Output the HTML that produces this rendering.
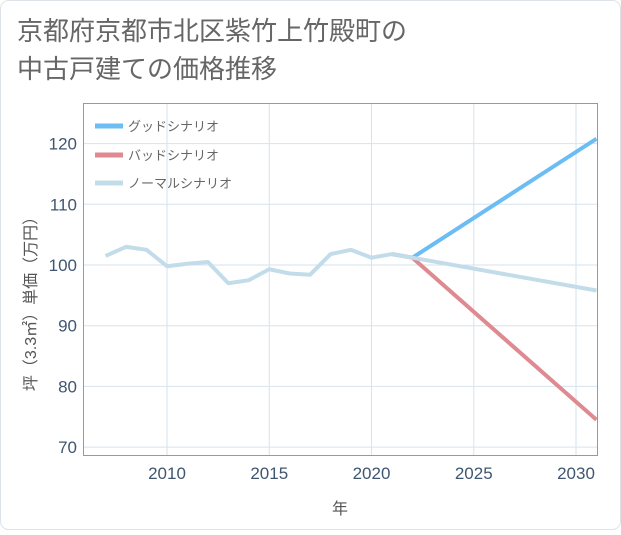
<!DOCTYPE html>
<html><head><meta charset="utf-8"><style>
body{margin:0;width:621px;height:530px;background:#fff;overflow:hidden}
svg text{font-family:"Liberation Sans","Noto Sans CJK JP",sans-serif}
</style></head><body>
<svg width="621" height="530" xmlns="http://www.w3.org/2000/svg">
<rect x="0.5" y="0.5" width="620" height="529" rx="8" fill="#fff" stroke="#dde3e8"/>
<text x="17" y="40" font-size="26" fill="#666">京都府京都市北区紫竹上竹殿町の</text>
<text x="17" y="78" font-size="26" fill="#666">中古戸建ての価格推移</text>
<g id="grid"></g>
<rect x="83.5" y="103.5" width="514" height="352" fill="none" stroke="#999" stroke-width="1"/>
<g id="series"></g>
<g id="axes"></g>
<g>
<line x1="95" y1="126" x2="123" y2="126" stroke="#6bbdf3" stroke-width="5"/>
<text x="128" y="131" font-size="13" fill="#666">グッドシナリオ</text>
<line x1="95" y1="155" x2="123" y2="155" stroke="#de8a90" stroke-width="5"/>
<text x="128" y="160" font-size="13" fill="#666">バッドシナリオ</text>
<line x1="95" y1="183" x2="123" y2="183" stroke="#c3dcea" stroke-width="5"/>
<text x="128" y="188" font-size="13" fill="#666">ノーマルシナリオ</text>
</g>
<text x="340" y="514" font-size="16" fill="#555" text-anchor="middle">年</text>
<text transform="translate(36,300) rotate(-90)" font-size="16" fill="#555" text-anchor="middle">坪（3.3㎡）単価（万円）</text>
</svg>
<script>
const normalYears=[2007,2008,2009,2010,2011,2012,2013,2014,2015,2016,2017,2018,2019,2020,2021,2022,2031];
const normalValues=[101.5,103,102.5,99.8,100.2,100.5,97,97.5,99.3,98.6,98.4,101.8,102.5,101.2,101.8,101.2,95.8];
const goodYears=[2021,2022,2031];
const goodValues=[101.8,101.2,120.8];
const badYears=[2021,2022,2031];
const badValues=[101.8,101.2,74.5];
const xTicks=[2010,2015,2020,2025,2030];
const yTicks=[70,80,90,100,110,120];
const NS="http://www.w3.org/2000/svg";
const X=y=>167+(y-2010)*20.45;
const Y=v=>265-(v-100)*6.07;
function mk(t,a,p){const e=document.createElementNS(NS,t);for(const k in a)e.setAttribute(k,a[k]);p.appendChild(e);return e;}
const grid=document.getElementById('grid'),axes=document.getElementById('axes'),ser=document.getElementById('series');
xTicks.forEach(t=>{const l=mk('line',{x1:X(t),x2:X(t),y1:104,y2:456,stroke:'#d5e3ee'},grid);

const tx=mk('text',{x:X(t),y:479,'font-size':17,fill:'#3f5670','text-anchor':'middle'},axes);tx.textContent=t;
});
yTicks.forEach(t=>{const l=mk('line',{x1:84,x2:598,y1:Y(t),y2:Y(t),stroke:'#d5e3ee'},grid);

const tx=mk('text',{x:77,y:Y(t)+6,'font-size':17,fill:'#3f5670','text-anchor':'end'},axes);tx.textContent=t;
});
function line(xs,vs,c,n){const p=mk('polyline',{points:xs.map((x,i)=>X(x)+','+Y(vs[i])).join(' '),fill:'none',stroke:c,'stroke-width':4,'stroke-linejoin':'round'},ser);
}
const cp=mk('clipPath',{id:'cp'},ser);mk('rect',{x:84,y:104,width:513,height:351},cp);
ser.setAttribute('clip-path','url(#cp)');
line(goodYears,goodValues,'#6bbdf3','good-scenario-line');
line(badYears,badValues,'#de8a90','bad-scenario-line');
line(normalYears,normalValues,'#c3dcea','normal-scenario-line');
</script>
</body></html>
